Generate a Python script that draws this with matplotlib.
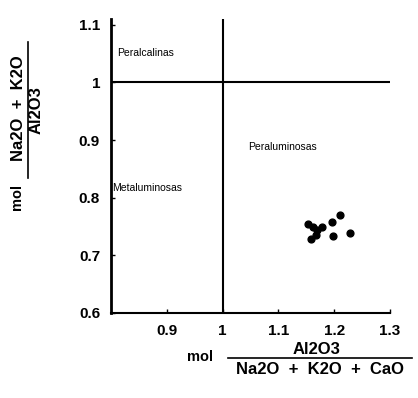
import matplotlib
matplotlib.use("Agg")
import matplotlib.pyplot as plt
from matplotlib.lines import Line2D

x_vals = [1.153, 1.162, 1.169, 1.178, 1.167, 1.158, 1.196, 1.211, 1.198, 1.229]
y_vals = [0.754, 0.749, 0.743, 0.749, 0.736, 0.728, 0.757, 0.770, 0.733, 0.738]
x_ticks = [0.9, 1.0, 1.1, 1.2, 1.3]
x_tick_labels = ["0.9", "1", "1.1", "1.2", "1.3"]
y_ticks = [0.6, 0.7, 0.8, 0.9, 1.0, 1.1]
y_tick_labels = ["0.6", "0.7", "0.8", "0.9", "1", "1.1"]
regions = ["Peralcalinas", "Metaluminosas", "Peraluminosas"]
x_num, x_den = "Al2O3", "Na2O  +  K2O  +  CaO"
y_num, y_den = "Na2O  +  K2O", "Al2O3"

W, H = 418, 398
def P(x, y):
    return (x / W, 1 - y / H)

plt.rcParams['font.family'] = ['Liberation Sans', 'DejaVu Sans']
fig = plt.figure(figsize=(W / 100, H / 100), dpi=100)
ax = fig.add_axes([0.266, 0.214, 0.667, 0.738])
ax.set_xlim(0.8, 1.3)
ax.set_ylim(0.6, 1.11)
ax.spines['top'].set_visible(False)
ax.spines['right'].set_visible(False)
ax.spines['left'].set_linewidth(2)
ax.spines['bottom'].set_linewidth(1.5)

ax.axvline(1.0, color='black', lw=1.5)
ax.axhline(1.0, color='black', lw=1.5)
ax.scatter(x_vals, y_vals, s=24, color='black', zorder=3)

ax.set_xticks(x_ticks)
ax.set_xticklabels(x_tick_labels, fontsize=11, fontweight='bold')
ax.set_yticks(y_ticks)
ax.set_yticklabels(y_tick_labels, fontsize=11, fontweight='bold')
ax.tick_params(direction='in', length=3, width=1, pad=8)

ax.text(0.81, 1.052, regions[0], fontsize=7.5, va='center')
ax.text(0.801, 0.817, regions[1], fontsize=7.5, va='center')
ax.text(1.045, 0.888, regions[2], fontsize=7.5, va='center')

# x-axis label
fig.text(*P(200, 357), "mol", fontsize=10.5, fontweight='bold', ha='center', va='center')
fig.text(*P(317, 349), x_num, fontsize=12, fontweight='bold', ha='center', va='center')
fig.text(*P(320, 369), x_den, fontsize=12, fontweight='bold', ha='center', va='center')
x0, y0 = P(228, 358); x1, _ = P(412, 358)
fig.add_artist(Line2D([x0, x1], [y0, y0], color='black', lw=1.2, transform=fig.transFigure))

# y-axis label
fig.text(*P(17, 197), "mol", fontsize=10.5, fontweight='bold', ha='center', va='center', rotation=90)
fig.text(*P(19, 108), y_num, fontsize=12, fontweight='bold', ha='center', va='center', rotation=90)
fig.text(*P(36, 110), y_den, fontsize=12, fontweight='bold', ha='center', va='center', rotation=90)
xa, ya = P(28, 42); _, yb = P(28, 178)
fig.add_artist(Line2D([xa, xa], [ya, yb], color='black', lw=1.2, transform=fig.transFigure))

fig.savefig("out.png", dpi=100, facecolor='white')
